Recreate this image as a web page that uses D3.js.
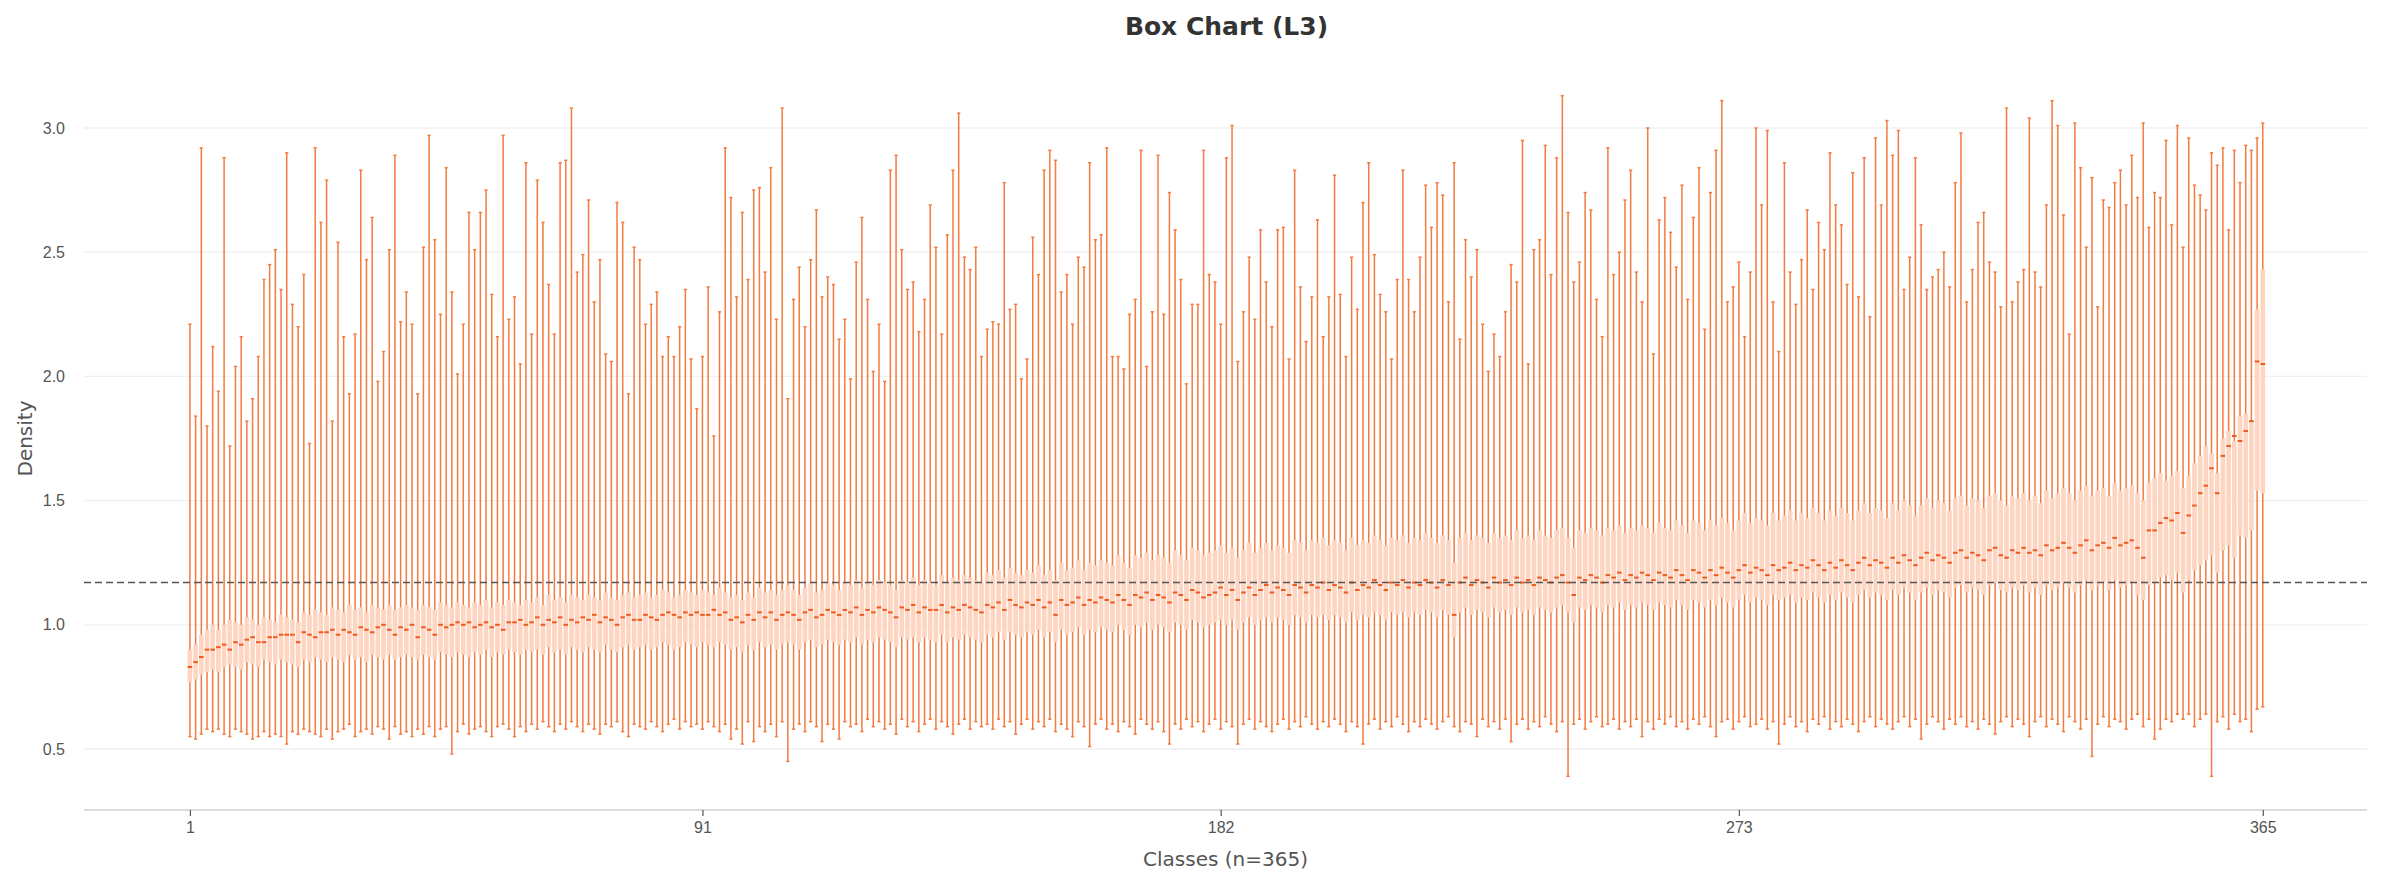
<!DOCTYPE html>
<html><head><meta charset="utf-8">
<script src="https://cdn.jsdelivr.net/npm/d3@7"></script>
<style>body{margin:0;background:#fff}svg{display:block;font-family:"DejaVu Sans",sans-serif}</style>
</head><body><svg id="c" width="2383" height="886"></svg>
<script>
const title = "Box Chart (L3)";
const xTitle = "Classes (n=365)";
const yTitle = "Density";
const xTicks = [1, 91, 182, 273, 365];
const yTicks = [0.5, 1.0, 1.5, 2.0, 2.5, 3.0];
const refLine = 1.17;
const classes = d3.range(1, 366);
const median = [
0.83,0.85,0.87,0.90,0.90,0.91,0.92,0.90,0.93,0.92,0.94,0.95,0.93,0.93,0.95,0.95,0.96,0.96,0.96,0.93,
0.97,0.96,0.95,0.97,0.97,0.98,0.96,0.98,0.97,0.96,0.99,0.98,0.97,0.99,1.00,0.98,0.96,0.99,0.98,1.00,
0.95,0.99,0.98,0.96,1.00,0.99,1.00,1.01,1.00,1.01,0.99,1.00,1.01,0.99,1.00,0.98,1.01,1.01,1.02,1.00,
1.01,1.03,1.00,1.02,1.01,1.03,1.00,1.02,1.01,1.03,1.02,1.04,1.01,1.03,1.02,1.00,1.03,1.04,1.02,1.02,
1.04,1.03,1.02,1.04,1.05,1.04,1.03,1.05,1.04,1.05,1.04,1.04,1.06,1.04,1.05,1.02,1.03,1.01,1.04,1.02,
1.05,1.03,1.05,1.02,1.04,1.05,1.04,1.02,1.05,1.06,1.03,1.04,1.06,1.05,1.04,1.06,1.05,1.07,1.04,1.06,
1.05,1.07,1.06,1.05,1.03,1.07,1.06,1.08,1.05,1.07,1.06,1.06,1.08,1.05,1.07,1.06,1.08,1.07,1.06,1.05,
1.08,1.07,1.09,1.06,1.10,1.08,1.07,1.09,1.08,1.10,1.07,1.09,1.04,1.10,1.08,1.09,1.11,1.08,1.10,1.09,
1.11,1.10,1.09,1.12,1.10,1.08,1.12,1.11,1.13,1.10,1.12,1.11,1.09,1.13,1.12,1.10,1.14,1.13,1.11,1.12,
1.13,1.15,1.12,1.14,1.10,1.13,1.15,1.12,1.14,1.16,1.13,1.15,1.14,1.12,1.16,1.15,1.13,1.16,1.15,1.17,
1.14,1.16,1.15,1.13,1.17,1.14,1.16,1.15,1.18,1.16,1.14,1.17,1.16,1.18,1.15,1.17,1.16,1.18,1.17,1.15,
1.18,1.16,1.04,1.17,1.19,1.16,1.18,1.17,1.15,1.19,1.17,1.18,1.16,1.19,1.17,1.18,1.16,1.19,1.18,1.17,
1.19,1.20,1.17,1.12,1.19,1.18,1.20,1.19,1.17,1.20,1.19,1.21,1.18,1.20,1.19,1.21,1.20,1.18,1.21,1.20,
1.19,1.22,1.20,1.18,1.22,1.21,1.19,1.22,1.20,1.23,1.21,1.19,1.22,1.24,1.21,1.23,1.22,1.20,1.24,1.22,
1.23,1.25,1.22,1.24,1.23,1.26,1.24,1.22,1.25,1.23,1.26,1.24,1.22,1.25,1.27,1.24,1.26,1.25,1.23,1.27,
1.25,1.28,1.26,1.24,1.27,1.29,1.26,1.28,1.27,1.25,1.29,1.30,1.27,1.29,1.28,1.26,1.30,1.31,1.28,1.27,
1.30,1.29,1.31,1.29,1.30,1.28,1.32,1.30,1.31,1.33,1.31,1.29,1.32,1.34,1.30,1.32,1.33,1.31,1.35,1.32,
1.33,1.34,1.31,1.27,1.38,1.38,1.41,1.43,1.42,1.45,1.37,1.44,1.48,1.53,1.56,1.63,1.53,1.68,1.72,1.76,1.74,1.78,1.82,2.06,2.05];
const q1 = [
0.77,0.78,0.80,0.81,0.82,0.81,0.83,0.84,0.83,0.82,0.85,0.84,0.83,0.86,0.85,0.84,0.86,0.85,0.84,0.83,
0.86,0.85,0.87,0.86,0.85,0.87,0.86,0.85,0.88,0.86,0.87,0.85,0.88,0.87,0.86,0.88,0.86,0.87,0.88,0.87,
0.86,0.88,0.87,0.86,0.89,0.88,0.87,0.89,0.88,0.87,0.89,0.88,0.90,0.87,0.89,0.88,0.90,0.89,0.88,0.90,
0.89,0.90,0.88,0.91,0.89,0.90,0.88,0.91,0.90,0.89,0.91,0.90,0.89,0.92,0.90,0.89,0.91,0.92,0.90,0.91,
0.92,0.90,0.91,0.93,0.92,0.90,0.91,0.93,0.92,0.91,0.93,0.92,0.91,0.93,0.92,0.90,0.91,0.89,0.92,0.90,
0.93,0.91,0.92,0.90,0.92,0.93,0.92,0.90,0.93,0.94,0.91,0.92,0.94,0.93,0.92,0.94,0.93,0.95,0.92,0.94,
0.93,0.95,0.94,0.93,0.91,0.95,0.94,0.95,0.93,0.95,0.94,0.93,0.96,0.93,0.95,0.94,0.96,0.95,0.94,0.93,
0.96,0.95,0.97,0.94,0.97,0.96,0.95,0.97,0.96,0.98,0.95,0.97,0.93,0.98,0.96,0.97,0.99,0.96,0.98,0.97,
0.99,0.98,0.97,1.00,0.98,0.96,1.00,0.99,1.01,0.98,1.00,0.99,0.97,1.01,1.00,0.98,1.02,1.01,0.99,1.00,
1.01,1.02,1.00,1.02,0.98,1.01,1.03,1.00,1.02,1.03,1.01,1.03,1.02,1.00,1.04,1.03,1.01,1.04,1.03,1.04,
1.02,1.04,1.03,1.01,1.05,1.02,1.04,1.03,1.05,1.04,1.02,1.05,1.04,1.05,1.03,1.05,1.04,1.06,1.05,1.03,
1.06,1.04,0.95,1.05,1.07,1.04,1.06,1.05,1.03,1.07,1.05,1.06,1.04,1.07,1.05,1.06,1.04,1.07,1.06,1.05,
1.07,1.08,1.05,1.01,1.07,1.06,1.08,1.07,1.05,1.08,1.07,1.09,1.06,1.08,1.07,1.09,1.08,1.06,1.09,1.08,
1.07,1.10,1.08,1.06,1.10,1.09,1.07,1.10,1.08,1.11,1.09,1.07,1.10,1.12,1.09,1.11,1.10,1.08,1.12,1.10,
1.11,1.12,1.09,1.11,1.10,1.13,1.11,1.09,1.12,1.10,1.13,1.11,1.09,1.12,1.14,1.11,1.13,1.12,1.10,1.14,
1.12,1.15,1.13,1.10,1.13,1.15,1.12,1.14,1.13,1.11,1.15,1.16,1.13,1.15,1.14,1.12,1.16,1.17,1.14,1.13,
1.15,1.14,1.16,1.13,1.15,1.12,1.16,1.14,1.15,1.17,1.15,1.13,1.16,1.18,1.14,1.16,1.17,1.14,1.18,1.15,
1.16,1.17,1.12,1.10,1.16,1.17,1.19,1.20,1.18,1.21,1.13,1.18,1.22,1.24,1.26,1.28,1.21,1.30,1.32,1.27,1.36,1.35,1.38,1.54,1.53];
const q3 = [
0.90,0.92,0.96,0.98,1.00,0.98,1.00,1.02,1.01,1.00,1.03,1.02,1.00,1.03,1.02,1.01,1.04,1.03,1.02,1.01,
1.05,1.04,1.06,1.05,1.04,1.07,1.06,1.05,1.08,1.06,1.07,1.05,1.08,1.07,1.06,1.08,1.06,1.07,1.08,1.07,
1.06,1.08,1.07,1.06,1.09,1.08,1.07,1.09,1.08,1.07,1.09,1.08,1.10,1.07,1.09,1.08,1.10,1.09,1.08,1.10,
1.09,1.11,1.08,1.12,1.10,1.11,1.09,1.12,1.11,1.10,1.12,1.11,1.10,1.13,1.11,1.10,1.12,1.13,1.11,1.12,
1.13,1.11,1.12,1.14,1.13,1.11,1.12,1.14,1.13,1.12,1.14,1.13,1.12,1.15,1.13,1.11,1.12,1.10,1.13,1.11,
1.15,1.13,1.14,1.12,1.14,1.16,1.14,1.12,1.15,1.17,1.13,1.14,1.17,1.16,1.14,1.17,1.16,1.18,1.15,1.17,
1.16,1.18,1.17,1.16,1.14,1.18,1.17,1.19,1.16,1.18,1.17,1.16,1.20,1.17,1.19,1.18,1.20,1.19,1.18,1.17,
1.21,1.20,1.22,1.19,1.23,1.21,1.20,1.22,1.21,1.24,1.20,1.22,1.18,1.25,1.22,1.23,1.26,1.22,1.25,1.24,
1.26,1.25,1.24,1.28,1.25,1.23,1.28,1.27,1.29,1.26,1.28,1.27,1.25,1.30,1.28,1.26,1.31,1.30,1.28,1.29,
1.30,1.32,1.29,1.31,1.27,1.30,1.33,1.29,1.31,1.33,1.30,1.32,1.31,1.29,1.34,1.33,1.30,1.34,1.33,1.35,
1.32,1.34,1.33,1.30,1.35,1.32,1.34,1.33,1.36,1.34,1.32,1.35,1.34,1.36,1.33,1.35,1.34,1.37,1.35,1.33,
1.36,1.34,1.25,1.35,1.37,1.34,1.36,1.35,1.33,1.37,1.35,1.36,1.34,1.38,1.35,1.36,1.34,1.38,1.36,1.35,
1.38,1.39,1.35,1.31,1.38,1.37,1.39,1.38,1.36,1.39,1.38,1.40,1.37,1.39,1.38,1.40,1.39,1.37,1.41,1.39,
1.38,1.42,1.40,1.37,1.42,1.41,1.38,1.42,1.40,1.43,1.41,1.38,1.42,1.45,1.41,1.43,1.42,1.40,1.45,1.42,
1.44,1.46,1.42,1.45,1.43,1.47,1.45,1.42,1.46,1.44,1.47,1.45,1.42,1.46,1.49,1.45,1.47,1.46,1.43,1.49,
1.46,1.50,1.48,1.44,1.48,1.51,1.47,1.50,1.49,1.46,1.51,1.52,1.48,1.51,1.50,1.47,1.52,1.53,1.50,1.48,
1.52,1.51,1.53,1.50,1.52,1.49,1.54,1.51,1.53,1.55,1.53,1.50,1.54,1.56,1.52,1.54,1.55,1.52,1.57,1.54,
1.55,1.56,1.53,1.50,1.57,1.59,1.61,1.58,1.60,1.62,1.55,1.60,1.65,1.68,1.72,1.69,1.61,1.75,1.78,1.74,1.84,1.85,1.82,2.27,2.43];
const whiskerLow = [
0.55,0.54,0.56,0.58,0.57,0.58,0.56,0.55,0.58,0.57,0.56,0.54,0.55,0.57,0.55,0.56,0.55,0.52,0.57,0.56,
0.58,0.57,0.56,0.55,0.58,0.54,0.57,0.58,0.60,0.55,0.57,0.58,0.56,0.59,0.58,0.54,0.59,0.56,0.57,0.55,
0.58,0.56,0.59,0.55,0.58,0.59,0.48,0.57,0.60,0.56,0.58,0.59,0.57,0.55,0.59,0.60,0.58,0.55,0.59,0.57,
0.60,0.58,0.61,0.59,0.57,0.60,0.58,0.61,0.59,0.57,0.60,0.58,0.56,0.60,0.59,0.61,0.57,0.55,0.60,0.59,
0.58,0.61,0.59,0.57,0.60,0.62,0.58,0.61,0.59,0.60,0.58,0.61,0.59,0.57,0.60,0.54,0.58,0.52,0.61,0.53,
0.59,0.57,0.60,0.55,0.61,0.45,0.58,0.60,0.57,0.61,0.59,0.53,0.60,0.58,0.54,0.61,0.59,0.60,0.57,0.62,
0.59,0.61,0.58,0.60,0.56,0.62,0.59,0.61,0.57,0.60,0.62,0.58,0.61,0.59,0.56,0.60,0.62,0.58,0.61,0.59,
0.60,0.58,0.62,0.59,0.61,0.56,0.60,0.62,0.58,0.61,0.59,0.62,0.57,0.60,0.58,0.55,0.61,0.59,0.51,0.60,
0.62,0.58,0.60,0.57,0.61,0.59,0.56,0.62,0.60,0.58,0.61,0.57,0.52,0.60,0.58,0.62,0.59,0.61,0.57,0.60,
0.62,0.58,0.61,0.59,0.52,0.60,0.62,0.58,0.61,0.59,0.57,0.60,0.62,0.58,0.61,0.59,0.63,0.60,0.58,0.61,
0.59,0.62,0.60,0.57,0.61,0.59,0.52,0.60,0.62,0.58,0.61,0.59,0.63,0.60,0.57,0.61,0.59,0.62,0.60,0.58,
0.61,0.63,0.59,0.57,0.61,0.60,0.55,0.62,0.59,0.61,0.58,0.62,0.53,0.60,0.62,0.58,0.61,0.59,0.63,0.60,
0.57,0.61,0.39,0.60,0.62,0.58,0.61,0.63,0.59,0.60,0.62,0.58,0.61,0.59,0.62,0.55,0.61,0.58,0.62,0.60,
0.63,0.59,0.61,0.58,0.62,0.60,0.63,0.59,0.55,0.61,0.62,0.58,0.61,0.63,0.59,0.60,0.62,0.58,0.61,0.52,
0.60,0.63,0.59,0.61,0.57,0.62,0.60,0.63,0.58,0.61,0.59,0.62,0.60,0.57,0.61,0.63,0.59,0.62,0.60,0.58,
0.61,0.63,0.59,0.62,0.54,0.60,0.63,0.61,0.58,0.62,0.60,0.63,0.59,0.61,0.58,0.62,0.60,0.56,0.61,0.63,
0.59,0.62,0.60,0.55,0.61,0.63,0.59,0.62,0.60,0.57,0.63,0.61,0.58,0.62,0.47,0.60,0.63,0.59,0.62,0.61,
0.58,0.62,0.64,0.59,0.62,0.54,0.58,0.62,0.61,0.64,0.62,0.64,0.59,0.62,0.64,0.39,0.61,0.63,0.58,0.64,0.61,0.62,0.57,0.66,0.67];
const whiskerHigh = [
2.21,1.84,2.92,1.80,2.12,1.94,2.88,1.72,2.04,2.16,1.82,1.91,2.08,2.39,2.45,2.51,2.35,2.90,2.29,2.20,
2.41,1.73,2.92,2.62,2.79,1.82,2.54,2.16,1.93,2.17,2.83,2.47,2.64,1.98,2.10,2.51,2.89,2.22,2.34,2.21,
1.93,2.52,2.97,2.55,2.25,2.84,2.34,2.01,2.21,2.66,2.51,2.66,2.75,2.33,2.16,2.97,2.23,2.32,2.05,2.86,
2.17,2.79,2.62,2.37,2.17,2.86,2.87,3.08,2.42,2.49,2.71,2.30,2.47,2.09,2.06,2.70,2.62,1.93,2.52,2.47,
2.21,2.29,2.34,2.08,2.16,2.08,2.20,2.35,2.07,1.87,2.08,2.36,1.76,2.26,2.92,2.72,2.32,2.66,2.39,2.75,
2.76,2.42,2.84,2.23,3.08,1.91,2.31,2.44,2.20,2.47,2.67,2.32,2.40,2.37,2.15,2.23,1.99,2.46,2.64,2.31,
2.02,2.21,1.98,2.83,2.89,2.51,2.35,2.38,2.18,2.31,2.69,2.52,2.17,2.57,2.83,3.06,2.48,2.43,2.52,2.08,
2.19,2.22,2.21,2.78,2.27,2.29,1.99,2.07,2.56,2.41,2.83,2.91,2.87,2.34,2.41,2.21,2.48,2.44,2.86,2.55,
2.57,2.92,2.08,2.08,2.03,2.25,2.31,2.91,2.04,2.26,2.89,2.25,2.74,2.59,2.39,1.97,2.29,2.29,2.91,2.41,
2.38,2.21,2.88,3.01,2.06,2.26,2.48,2.23,2.59,2.38,2.20,2.59,2.60,2.07,2.83,2.36,2.14,2.32,2.63,2.16,
2.32,2.81,2.33,2.08,2.48,2.27,2.70,2.86,2.49,2.33,2.26,2.07,2.39,2.83,2.39,2.26,2.48,2.77,2.60,2.78,
2.73,2.30,2.86,2.15,2.55,2.40,2.51,2.21,2.02,2.17,2.08,2.26,2.45,2.38,2.95,2.05,2.51,2.55,2.93,2.41,
2.88,3.13,2.66,2.38,2.46,2.74,2.67,2.31,2.16,2.92,2.41,2.50,2.71,2.83,2.42,2.30,3.00,2.09,2.63,2.72,
2.58,2.44,2.77,2.31,2.64,2.84,2.19,2.74,2.91,3.11,2.30,2.36,2.46,2.16,2.42,3.00,2.69,2.99,2.30,2.10,
2.86,2.42,2.29,2.47,2.67,2.35,2.62,2.51,2.90,2.69,2.61,2.37,2.82,2.32,2.88,2.24,2.96,2.69,3.03,2.89,
2.99,2.35,2.48,2.88,2.61,2.35,2.40,2.43,2.50,2.36,2.78,2.98,2.30,2.43,2.62,2.66,2.46,2.42,2.28,3.08,
2.30,2.38,2.43,3.04,2.42,2.36,2.69,3.11,3.01,2.65,2.17,3.02,2.84,2.52,2.80,2.28,2.71,2.68,2.78,2.83,
2.69,2.89,2.72,3.02,2.60,2.74,2.72,2.95,2.61,3.01,2.52,2.96,2.77,2.73,2.67,2.90,2.85,2.92,2.59,2.91,2.78,2.93,2.91,2.96,3.02];

const svg = d3.select("#c");
const W = 2383, H = 886;
const padL = 84, padR = 2367, padB = 810;
const x = d3.scaleLinear().domain([1 - 18.6, 365 + 18.3]).range([padL, padR]);
const y = d3.scaleLinear().domain([0.5, 3.0]).range([749, 128]);
const ORANGE = "#f47b3f", BOX = "#fdd5c1", MED = "#f05a1e";

svg.append("g").selectAll("line").data(yTicks).join("line")
  .attr("x1", padL).attr("x2", padR).attr("y1", d => y(d)).attr("y2", d => y(d))
  .attr("stroke", "#f0f0f0").attr("stroke-width", 1.3);

const yAxis = svg.append("g").attr("transform", `translate(${padL},0)`)
  .call(d3.axisLeft(y).tickValues(yTicks).tickFormat(d3.format(".1f")).tickSize(0).tickPadding(19));
yAxis.select(".domain").remove();
yAxis.selectAll("text").attr("font-size", 16).attr("fill", "#555");

const xAxis = svg.append("g").attr("transform", `translate(0,${padB})`)
  .call(d3.axisBottom(x).tickValues(xTicks).tickSize(6).tickPadding(6).tickSizeOuter(0));
xAxis.select(".domain").attr("stroke", "#d0d0d0").attr("stroke-width", 1.5).attr("d", `M${padL},0H${padR}`);
xAxis.selectAll(".tick line").attr("stroke", "#555").attr("stroke-width", 1.2);
xAxis.selectAll("text").attr("font-size", 16).attr("fill", "#555");

const data = classes.map((c, i) => ({c, med: median[i], q1: q1[i], q3: q3[i], lo: whiskerLow[i], hi: whiskerHigh[i]}));
const bw = 4.6, cap = 3.2;
const g = svg.append("g");
g.selectAll("line.wh").data(data).join("line").attr("class", "wh")
  .attr("x1", d => x(d.c)).attr("x2", d => x(d.c))
  .attr("y1", d => y(d.lo)).attr("y2", d => y(d.hi))
  .attr("stroke", ORANGE).attr("stroke-width", 1.5);
g.selectAll("line.ct").data(data).join("line").attr("class", "ct")
  .attr("x1", d => x(d.c) - cap / 2).attr("x2", d => x(d.c) + cap / 2)
  .attr("y1", d => y(d.hi)).attr("y2", d => y(d.hi)).attr("stroke", ORANGE).attr("stroke-width", 1.5);
g.selectAll("line.cb").data(data).join("line").attr("class", "cb")
  .attr("x1", d => x(d.c) - cap / 2).attr("x2", d => x(d.c) + cap / 2)
  .attr("y1", d => y(d.lo)).attr("y2", d => y(d.lo)).attr("stroke", ORANGE).attr("stroke-width", 1.5);
g.selectAll("rect.box").data(data).join("rect").attr("class", "box")
  .attr("x", d => x(d.c) - bw / 2).attr("width", bw)
  .attr("y", d => y(d.q3)).attr("height", d => y(d.q1) - y(d.q3))
  .attr("fill", BOX);
g.selectAll("line.md").data(data).join("line").attr("class", "md")
  .attr("x1", d => x(d.c) - bw / 2).attr("x2", d => x(d.c) + bw / 2)
  .attr("y1", d => y(d.med)).attr("y2", d => y(d.med)).attr("stroke", MED).attr("stroke-width", 2);

svg.append("line").attr("x1", padL).attr("x2", padR).attr("y1", y(refLine)).attr("y2", y(refLine))
  .attr("stroke", "#555").attr("stroke-width", 1.6).attr("stroke-dasharray", "7,4");

svg.append("text").attr("x", W / 2 + 35).attr("y", 35).attr("text-anchor", "middle")
  .attr("font-size", 25).attr("font-weight", "bold").attr("fill", "#333").text(title);
svg.append("text").attr("x", (padL + padR) / 2).attr("y", 866).attr("text-anchor", "middle")
  .attr("font-size", 20).attr("fill", "#555").text(xTitle);
svg.append("text").attr("transform", `translate(32,${(128 + 749) / 2}) rotate(-90)`).attr("text-anchor", "middle")
  .attr("font-size", 20).attr("fill", "#555").text(yTitle);
</script></body></html>
